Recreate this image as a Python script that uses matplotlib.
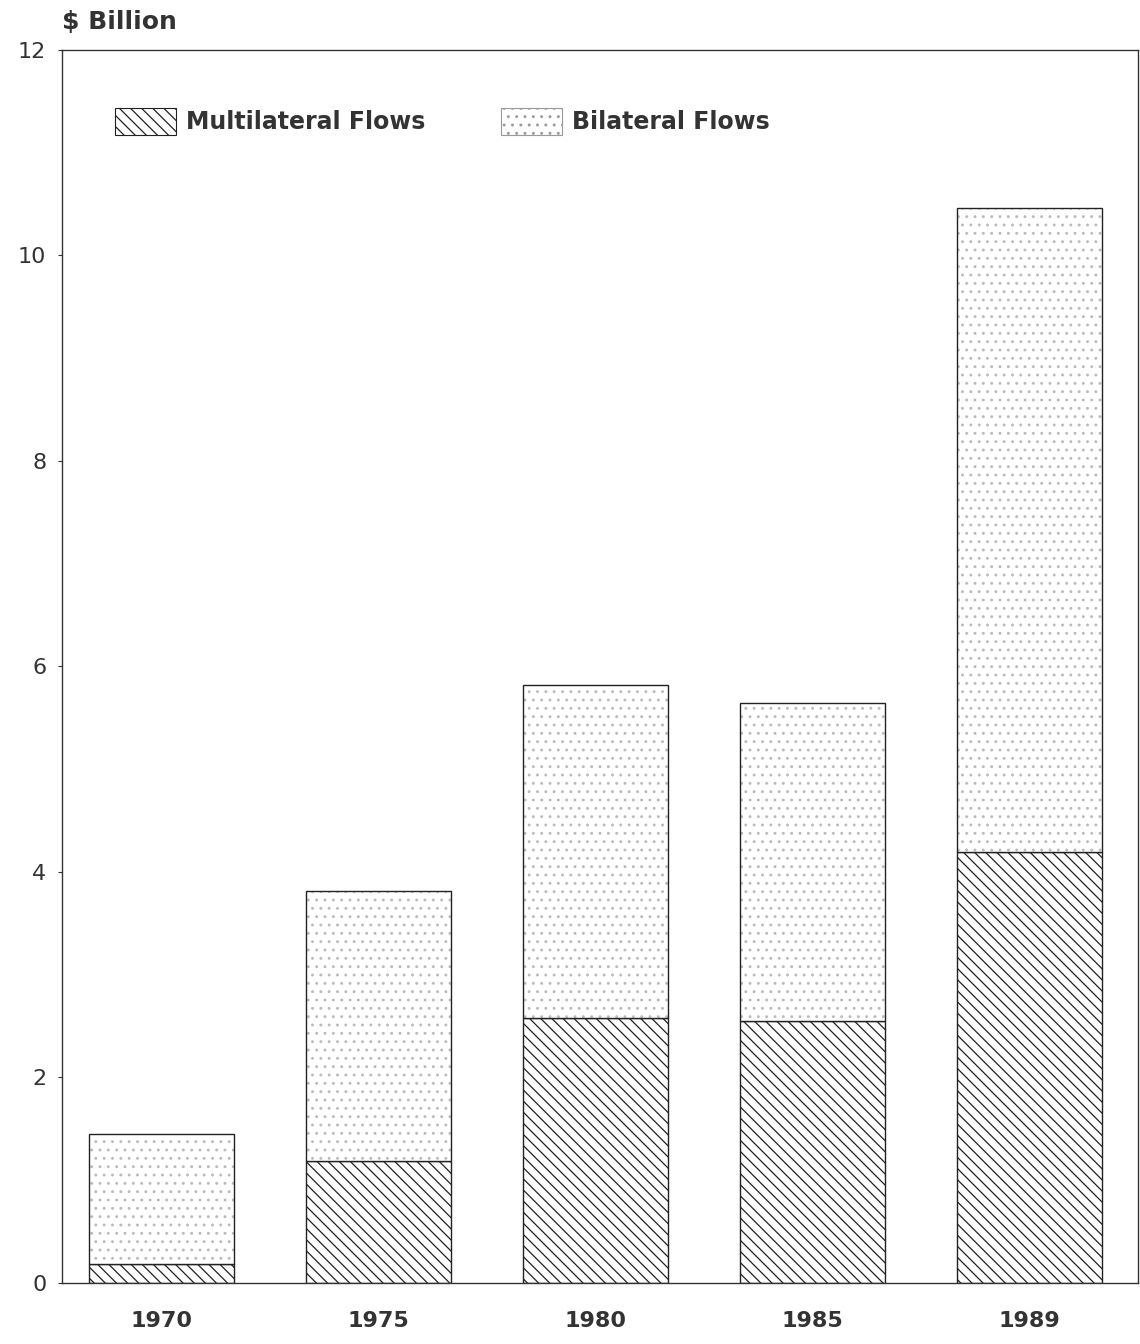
import numpy as np
import matplotlib.pyplot as plt
from matplotlib.patches import Patch

plt.rcParams['font.family'] = ['DejaVu Sans']
plt.rcParams['hatch.linewidth'] = 0.9

years = ['1970', '1975', '1980', '1985', '1989']
multilateral = [0.18, 1.19, 2.58, 2.55, 4.19]
bilateral = [1.27, 2.62, 3.24, 3.09, 6.27]

text_col = '#333333'
x = np.arange(len(years))
w = 0.67

fig = plt.figure(figsize=(11.4, 13.44), dpi=100)
ax = fig.add_axes([0.054, 0.0454, 0.944, 0.9176])

# multilateral: diagonal hatch
ax.bar(x, multilateral, w, color='white', edgecolor='#222222', hatch='\\\\\\', linewidth=1.0)
# bilateral: faint dots, then a black outline on top
ax.bar(x, bilateral, w, bottom=multilateral, color='white', edgecolor='#bbbbbb', hatch='..', linewidth=0)
ax.bar(x, bilateral, w, bottom=multilateral, fill=False, edgecolor='#222222', linewidth=1.0)

ax.set_xlim(-0.46, 4.5)
ax.set_ylim(0, 12)
ax.set_yticks(np.arange(0, 13, 2))
ax.set_xticks(x)
ax.set_xticklabels(years, fontsize=16, fontweight='bold', color=text_col)
ax.tick_params(axis='y', labelsize=16, colors=text_col, length=3, pad=8)
ax.tick_params(axis='x', length=0, pad=20)
for s in ax.spines.values():
    s.set_color('#333333')
    s.set_linewidth(1.0)

fig.text(0.054, 0.975, '$ Billion', fontsize=18, fontweight='bold', color=text_col, ha='left', va='bottom')

handles = [Patch(facecolor='white', edgecolor='#222222', hatch='\\\\\\', linewidth=0.8),
           Patch(facecolor='white', edgecolor='#999999', hatch='..', linewidth=0.8)]
leg = ax.legend(handles, ['Multilateral Flows', 'Bilateral Flows'], loc='upper left',
                bbox_to_anchor=(0.03, 0.97), ncol=2, frameon=False, handlelength=2.6,
                handleheight=1.4, handletextpad=0.4, columnspacing=3.2,
                prop={'size': 17, 'weight': 'bold'})
for t in leg.get_texts():
    t.set_color(text_col)

fig.savefig('out.png', dpi=100)
